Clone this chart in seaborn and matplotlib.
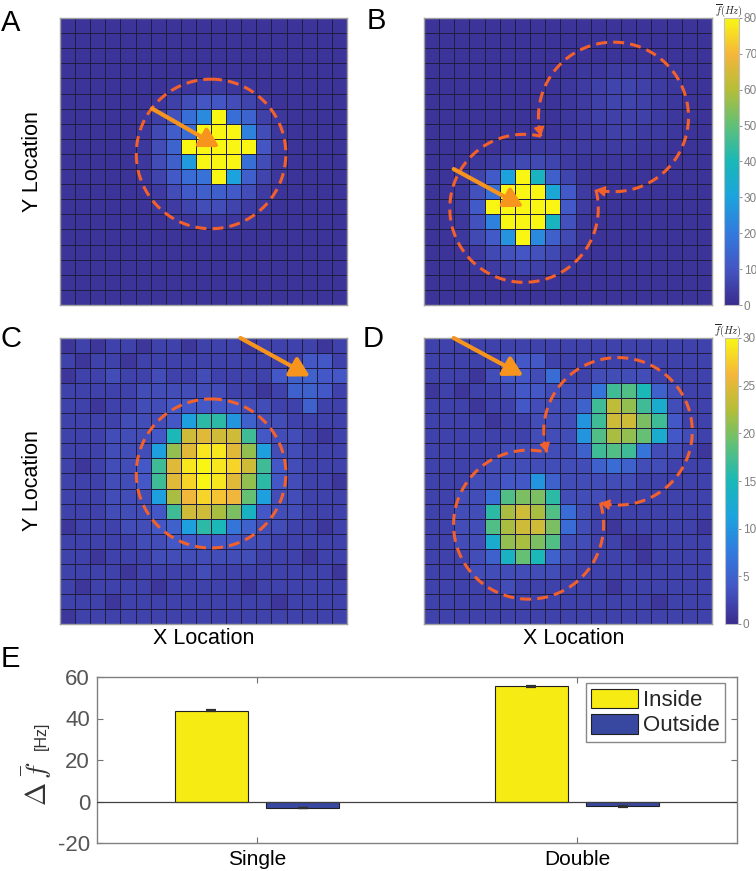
import numpy as np
import pandas as pd
import matplotlib
matplotlib.use("Agg")
import matplotlib.pyplot as plt
import seaborn as sns
from matplotlib.colors import LinearSegmentedColormap

# ---------------- data ----------------
grid_A = [
    [2,2,2,2,2,2,2,2,2,2,2,2,2,2,2,2,2,2,2],
    [2,2,2,2,2,2,2,2,2,2,2,2,2,2,2,2,2,2,2],
    [2,2,2,2,2,2,2,2,2,2,2,2,2,2,2,2,2,2,2],
    [2,2,2,2,2,2,2,2,2,2,2,2,2,2,2,2,2,2,2],
    [2,2,2,2,2,2,2,3,3,4,4,3,3,2,2,2,2,2,2],
    [2,2,2,2,2,2,3,5,8,10,10,8,6,3,2,2,2,2,2],
    [2,2,2,2,2,3,5,9,17,24,88,17,14,5,3,2,2,2,2],
    [2,2,2,2,2,3,7,12,16,88,88,88,22,8,3,2,2,2,2],
    [2,2,2,2,2,3,8,14,88,88,88,88,88,10,4,2,2,2,2],
    [2,2,2,2,2,3,8,13,28,88,88,88,17,8,3,2,2,2,2],
    [2,2,2,2,2,3,6,11,16,18,88,30,13,6,3,2,2,2,2],
    [2,2,2,2,2,2,4,8,11,13,13,11,8,4,2,2,2,2,2],
    [2,2,2,2,2,2,3,4,6,8,8,6,4,3,2,2,2,2,2],
    [2,2,2,2,2,2,2,3,3,4,4,3,3,2,2,2,2,2,2],
    [2,2,2,2,2,2,2,2,2,2,2,2,2,2,2,2,2,2,2],
    [2,2,2,2,2,2,2,2,2,2,2,2,2,2,2,2,2,2,2],
    [2,2,2,2,2,2,2,2,2,2,2,2,2,2,2,2,2,2,2],
    [2,2,2,2,2,2,2,2,2,2,2,2,2,2,2,2,2,2,2],
    [2,2,2,2,2,2,2,2,2,2,2,2,2,2,2,2,2,2,2],
]

grid_B = [
    [2,2,2,2,2,2,2,2,2,2,2,2,2,2,2,2,2,2,2],
    [2,2,2,2,2,2,2,2,2,2,2,2,2,2,2,2,2,2,2],
    [2,2,2,2,2,2,2,2,2,2,2,2,2,2,2,2,2,2,2],
    [2,2,2,2,2,2,2,2,2,2,3,3,4,4,4,3,3,2,2],
    [2,2,2,2,2,2,2,2,2,3,4,5,6,6,5,4,3,2,2],
    [2,2,2,2,2,2,2,2,2,3,4,5,6,6,5,4,3,2,2],
    [2,2,2,2,2,2,2,2,2,3,4,5,5,5,5,4,3,2,2],
    [2,2,2,2,2,2,2,2,2,3,4,4,5,5,4,4,3,2,2],
    [2,2,2,2,2,3,3,4,4,4,4,4,4,4,3,3,2,2,2],
    [2,2,2,3,4,6,7,7,6,4,3,3,3,3,2,2,2,2,2],
    [2,2,3,6,11,30,88,38,13,6,3,2,2,2,2,2,2,2,2],
    [2,2,3,9,17,88,88,88,32,11,4,2,2,2,2,2,2,2,2],
    [2,2,4,11,88,88,88,88,88,11,4,2,2,2,2,2,2,2,2],
    [2,2,3,9,22,88,88,88,38,9,3,2,2,2,2,2,2,2,2],
    [2,2,3,7,11,26,88,24,13,7,3,2,2,2,2,2,2,2,2],
    [2,2,2,4,7,9,10,9,7,4,2,2,2,2,2,2,2,2,2],
    [2,2,2,3,4,5,6,5,4,3,2,2,2,2,2,2,2,2,2],
    [2,2,2,2,2,2,2,2,2,2,2,2,2,2,2,2,2,2,2],
    [2,2,2,2,2,2,2,2,2,2,2,2,2,2,2,2,2,2,2],
]

grid_C = [
    [1,2,1,2,2,1,2,2,1,2,2,2,1,2,2,2,2,1,2],
    [2,1,2,2,1,2,2,2,2,2,2,2,2,2,2,2,4,4,2],
    [1,2,2,3,2,2,3,2,2,3,2,2,2,2,4,5,5,4,4],
    [2,2,2,2,2,3,3,3,3,3,3,2,2,1,2,5,5,4,2],
    [2,2,1,2,2,3,3,4,4,4,4,4,3,3,2,2,5,2,2],
    [2,2,2,2,3,3,3,4,11,16,16,10,5,3,3,2,2,2,2],
    [2,2,2,3,3,3,4,15,24,25,24,24,17,4,3,3,2,1,2],
    [2,2,2,3,3,3,11,21,25,29,29,25,21,11,3,3,2,2,2],
    [2,1,2,3,3,4,17,25,29,30,29,28,24,17,4,3,2,2,2],
    [2,2,2,3,3,4,17,25,28,30,29,25,21,16,4,3,2,2,1],
    [2,2,2,3,3,3,11,22,26,28,27,26,19,11,3,3,2,2,2],
    [2,2,2,3,3,3,4,17,24,24,22,20,14,4,3,3,2,2,2],
    [1,2,2,2,3,3,4,5,11,16,15,7,5,3,3,2,2,1,2],
    [2,2,2,2,2,3,3,4,4,4,4,4,3,3,2,2,2,2,2],
    [2,2,1,2,2,2,3,3,3,3,3,3,3,2,2,2,1,2,2],
    [2,2,2,2,1,2,2,2,2,3,2,2,2,2,2,2,2,2,1],
    [2,1,2,2,2,2,1,2,2,2,2,2,1,2,2,2,2,2,2],
    [2,2,2,1,2,2,2,2,2,2,2,2,2,2,1,2,2,2,2],
    [1,2,2,2,2,2,2,2,2,2,2,2,2,2,2,2,2,2,2],
]

grid_D = [
    [2,2,2,2,2,2,2,2,2,2,2,2,2,2,2,2,2,2,2],
    [2,2,2,2,2,4,4,4,2,2,2,2,2,2,2,2,2,2,2],
    [2,2,2,1,3,4,4,3,6,2,2,3,3,3,3,2,2,2,2],
    [1,2,1,2,2,3,4,4,3,3,3,7,17,18,15,5,3,2,2],
    [2,2,2,1,2,2,4,3,3,3,5,17,23,21,17,13,3,2,2],
    [2,2,2,2,1,2,2,3,3,3,10,17,24,24,20,17,4,2,2],
    [2,2,2,2,2,2,2,3,3,3,10,18,22,21,19,13,4,3,2],
    [2,2,2,2,2,3,3,3,3,3,5,17,18,17,7,3,3,2,1],
    [2,2,2,2,3,3,3,3,3,3,3,5,6,5,3,3,2,2,2],
    [2,2,2,3,3,4,4,10,5,3,3,3,3,3,2,2,2,2,2],
    [2,2,3,3,6,18,20,20,16,3,3,3,2,2,2,2,2,2,2],
    [2,2,3,3,16,22,24,22,18,6,3,2,2,2,2,2,2,2,2],
    [2,2,3,3,18,22,24,24,20,6,3,2,1,2,2,2,2,2,1],
    [2,2,3,3,13,21,22,20,18,3,3,2,2,1,1,2,2,2,2],
    [2,2,2,3,5,14,19,15,5,3,2,2,2,2,1,2,2,2,2],
    [2,2,2,3,3,3,3,3,3,2,2,2,2,2,2,2,2,2,2],
    [2,2,2,2,2,3,2,2,2,2,2,2,1,2,2,2,2,2,2],
    [2,2,2,2,2,2,2,2,2,2,2,2,2,2,2,1,2,2,2],
    [2,2,2,2,2,2,2,2,2,2,2,2,2,2,2,2,2,2,2],
]

vmax_top = 80
vmax_bottom = 30
cbar_ticks_top = [0, 10, 20, 30, 40, 50, 60, 70, 80]
cbar_ticks_bottom = [0, 5, 10, 15, 20, 25, 30]

conditions = ["Single", "Double"]
locations = ["Inside", "Outside"]
inside_vals = [43.8, 55.5]
outside_vals = [-3.1, -2.3]
inside_err = [0.4, 0.4]
outside_err = [0.2, 0.2]
e_yticks = [-20, 0, 20, 40, 60]

# ---------------- style ----------------
sns.set_theme(style="white")
plt.rcParams["font.family"] = ["Liberation Sans", "DejaVu Sans"]
plt.rcParams["axes.unicode_minus"] = False

cmap_anchors = [
    (0.000, (58, 44, 142)),
    (0.125, (68, 86, 196)),
    (0.250, (50, 122, 222)),
    (0.375, (28, 163, 222)),
    (0.500, (25, 184, 184)),
    (0.625, (95, 192, 120)),
    (0.750, (180, 190, 55)),
    (0.875, (245, 182, 58)),
    (1.000, (249, 246, 20)),
]
parula = LinearSegmentedColormap.from_list(
    "parula_like", [(p, tuple(v / 255 for v in c)) for p, c in cmap_anchors])

ORANGE = "#F7941D"
DASHRED = "#F2602C"
YELLOW = "#F6EB12"
BLUE = "#3848A0"

W, H = 756, 871
fig = plt.figure(figsize=(W / 100, H / 100), dpi=100)


def rect(x0, y0, x1, y1):
    return [x0 / W, 1 - y1 / H, (x1 - x0) / W, (y1 - y0) / H]


axA = fig.add_axes(rect(60, 18, 347, 305))
axB = fig.add_axes(rect(424, 18, 712, 305))
cax1 = fig.add_axes(rect(724, 18, 739, 305))
axC = fig.add_axes(rect(60, 338, 347, 624))
axD = fig.add_axes(rect(424, 338, 712, 624))
cax2 = fig.add_axes(rect(725, 338, 738, 624))
axE = fig.add_axes(rect(97, 677, 737, 843))


def draw_heat(ax, grid, vmax, cax=None, ticks=None):
    sns.heatmap(np.array(grid, dtype=float), ax=ax, cmap=parula, vmin=0, vmax=vmax,
                cbar=cax is not None, cbar_ax=cax, linewidths=0.6, linecolor="#201d40",
                xticklabels=False, yticklabels=False)
    for s in ax.spines.values():
        s.set_visible(True)
        s.set_color("#a0a0a0")
        s.set_linewidth(1.0)
    if cax is not None:
        cb = ax.collections[0].colorbar
        cb.set_ticks(ticks)
        cb.ax.tick_params(labelsize=8.5, colors="#808080", length=2, width=0.6, pad=1.5)
        cb.outline.set_edgecolor("#c0c0c0")
        cb.outline.set_linewidth(0.8)


DASH = (0, (3.6, 2.0))


def arc(ax, c, r, t0, t1):
    t = np.linspace(t0, t1, 500)
    ax.plot(c[0] + r * np.cos(t), c[1] + r * np.sin(t), color=DASHRED, lw=2.2,
            ls=DASH, dash_capstyle="butt", zorder=5)


def draw_circle(ax, c, r):
    arc(ax, c, r, -np.pi / 2, 1.5 * np.pi)


def draw_union(ax, c1, r1, c2, r2):
    d = np.hypot(c2[0] - c1[0], c2[1] - c1[1])
    phi = np.arctan2(c2[1] - c1[1], c2[0] - c1[0])
    a1 = np.arccos((d * d + r1 * r1 - r2 * r2) / (2 * d * r1))
    a2 = np.arccos((d * d + r2 * r2 - r1 * r1) / (2 * d * r2))
    arc(ax, c1, r1, phi + a1, phi + 2 * np.pi - a1)
    t0 = phi + np.pi + a2
    t1 = phi + 3 * np.pi - a2
    arc(ax, c2, r2, t0, t1)
    for ta, tb in [(t0 + 0.12, t0), (t1 - 0.12, t1)]:
        ax.annotate("", xy=(c2[0] + r2 * np.cos(tb), c2[1] + r2 * np.sin(tb)),
                    xytext=(c2[0] + r2 * np.cos(ta), c2[1] + r2 * np.sin(ta)),
                    arrowprops=dict(arrowstyle="-|>,head_length=0.6,head_width=0.35",
                                    color=DASHRED, lw=1.2, mutation_scale=9,
                                    shrinkA=0, shrinkB=0), zorder=6)


def draw_arrow(ax, start, tip):
    ax.annotate("", xy=tip, xytext=start,
                arrowprops=dict(arrowstyle="-|>,head_length=0.8,head_width=0.45",
                                color=ORANGE, lw=3.0, mutation_scale=14,
                                shrinkA=0, shrinkB=0), zorder=7)


draw_heat(axA, grid_A, vmax_top)
draw_heat(axB, grid_B, vmax_top, cax1, cbar_ticks_top)
draw_heat(axC, grid_C, vmax_bottom)
draw_heat(axD, grid_D, vmax_bottom, cax2, cbar_ticks_bottom)

draw_circle(axA, (10.0, 9.0), 4.95)
draw_arrow(axA, (6.1, 6.0), (10.55, 8.55))
draw_union(axB, (6.6, 12.6), 4.9, (12.5, 6.55), 4.95)
draw_arrow(axB, (1.96, 10.0), (6.55, 12.5))
draw_circle(axC, (10.0, 9.0), 4.95)
draw_arrow(axC, (11.95, 0.0), (16.55, 2.55))
draw_union(axD, (6.9, 12.4), 4.95, (12.8, 6.2), 4.9)
draw_arrow(axD, (1.96, 0.0), (6.55, 2.5))

for ax in (axA, axC):
    ax.set_ylabel("Y Location", fontsize=15.5, color="black")
    ax.yaxis.set_label_coords(-0.059, 0.5)
for ax, xc in ((axC, 0.5), (axD, 0.52)):
    ax.set_xlabel("X Location", fontsize=15.5, color="black")
    ax.xaxis.set_label_coords(xc, -0.015)

fig.text(729 / W, 1 - 2 / H, r"$\overline{f}(Hz)$", math_fontfamily="cm",
         fontsize=7.5, ha="center", va="top")
fig.text(728 / W, 1 - 322 / H, r"$\overline{f}(Hz)$", math_fontfamily="cm",
         fontsize=7.5, ha="center", va="top")

# ---------------- panel E ----------------
df = pd.DataFrame({
    "condition": conditions * 2,
    "location": [locations[0]] * 2 + [locations[1]] * 2,
    "value": inside_vals + outside_vals,
})
err_lookup = {("Inside", 0): inside_err[0], ("Inside", 1): inside_err[1],
              ("Outside", 0): outside_err[0], ("Outside", 1): outside_err[1]}

sns.barplot(data=df, x="condition", y="value", hue="location", order=conditions,
            hue_order=locations, palette=[YELLOW, BLUE], saturation=1, width=0.57,
            gap=0.2, errorbar=None, edgecolor="#202020", linewidth=0.8, ax=axE, zorder=2)

for p in axE.patches:
    wdt = p.get_width()
    if wdt <= 0:
        continue
    cx = p.get_x() + wdt / 2
    cat = int(round(cx))
    loc = "Inside" if cx < cat else "Outside"
    top = p.get_y() + p.get_height()
    axE.errorbar(cx, top, yerr=err_lookup[(loc, cat)], fmt="none", ecolor="#303030",
                 elinewidth=1.0, capsize=3.5, capthick=1.6, zorder=4)

axE.axhline(0, color="#404040", lw=0.9, zorder=3)
axE.set_xlim(-0.5, 1.5)
axE.set_ylim(-20, 60)
axE.set_yticks(e_yticks)
axE.set_xlabel("")
axE.set_ylabel("")
axE.tick_params(axis="both", direction="in", length=4, width=0.8, color="#707070",
                top=True, right=True, bottom=True, left=True)
axE.tick_params(axis="y", labelsize=16, labelcolor="#555555", pad=5)
axE.tick_params(axis="x", labelsize=15, labelcolor="black", pad=5)
for s in axE.spines.values():
    s.set_visible(True)
    s.set_color("#808080")
    s.set_linewidth(1.0)

handles, labels = axE.get_legend_handles_labels()
axE.legend(handles, labels, loc="upper right", bbox_to_anchor=(0.981, 0.964),
           borderaxespad=0, frameon=True, fancybox=False, edgecolor="#888888",
           fontsize=16, handlelength=2.1, handleheight=1.0, borderpad=0.25,
           labelspacing=0.12, handletextpad=0.2, framealpha=1, title=None)

fig.text(37 / W, 1 - 784 / H, r"$\Delta\,\bar{f}$", math_fontfamily="cm",
         rotation=90, fontsize=20, ha="center", va="center", color="#333333")
fig.text(41 / W, 1 - 736 / H, "[Hz]", rotation=90, fontsize=11.5, ha="center",
         va="center", color="#333333")

# ---------------- panel letters ----------------
for letter, (x, y) in {"A": (1, 9), "B": (367, 7), "C": (1, 325),
                       "D": (363, 325), "E": (1, 645)}.items():
    fig.text(x / W, 1 - y / H, letter, fontsize=21, ha="left", va="top", color="black")

fig.savefig("out.png", dpi=100)
